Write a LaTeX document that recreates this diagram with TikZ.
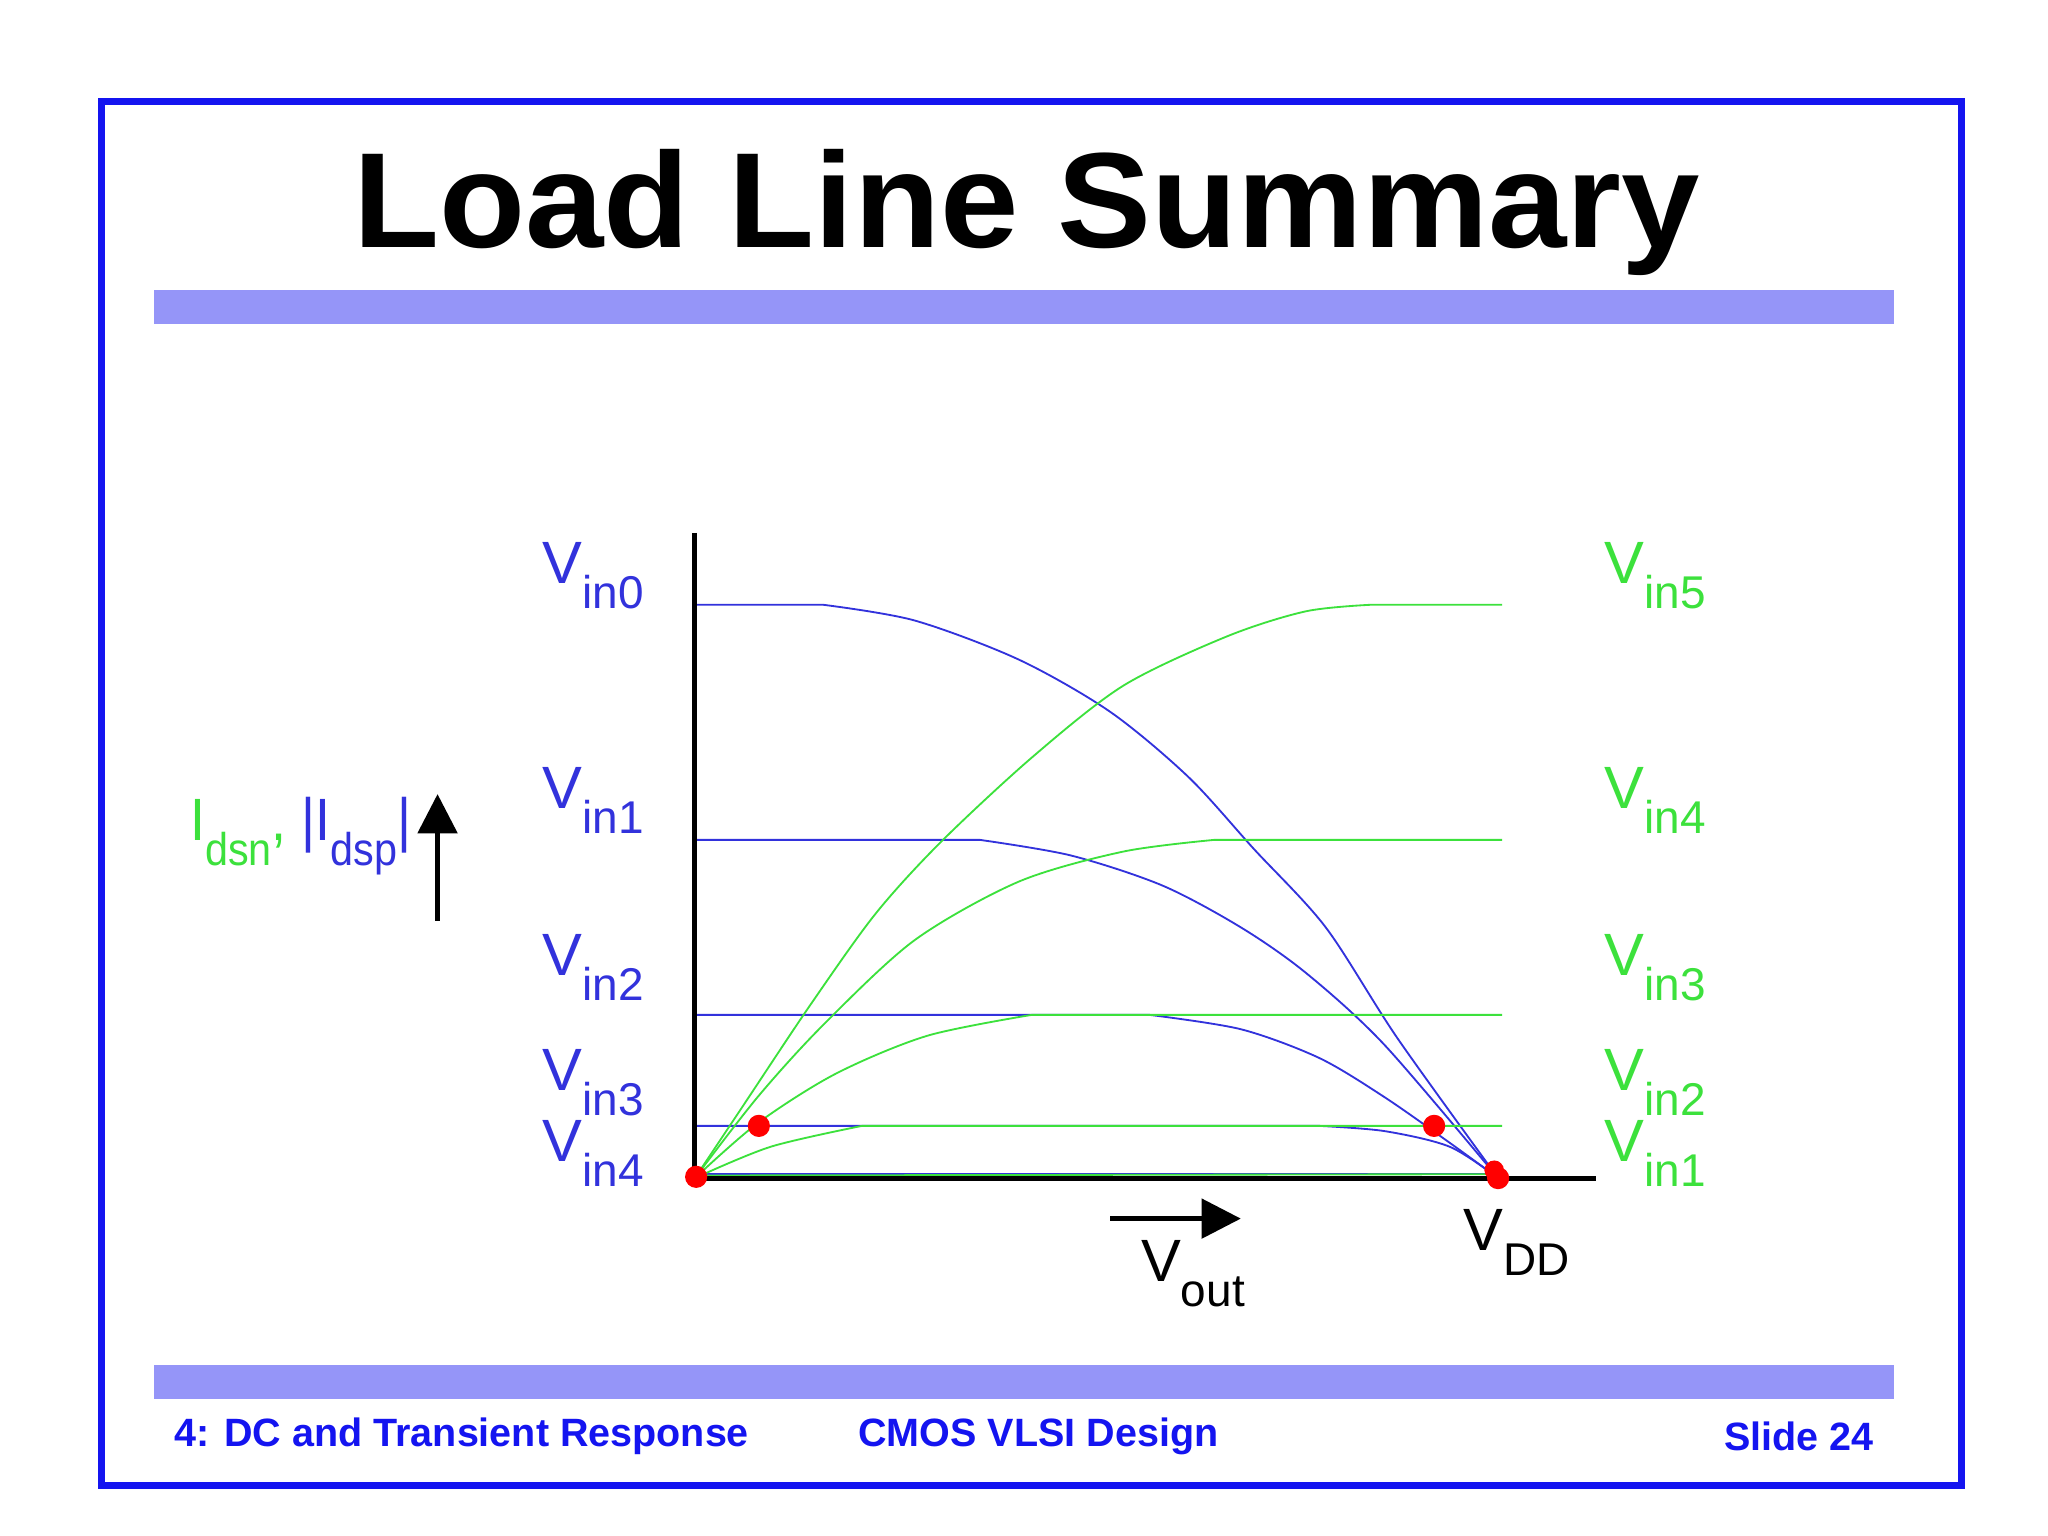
\documentclass[tikz,border=0pt]{standalone}
\usepackage{fontspec}
\setmainfont{Liberation Sans}
\usetikzlibrary{arrows.meta}
\definecolor{fb}{RGB}{20,20,240}
\definecolor{cb}{RGB}{50,50,220}
\definecolor{cg}{RGB}{60,225,60}
\newcommand{\sbs}[1]{\raisebox{-0.42em}{\fontsize{10}{11}\selectfont #1}}
\begin{document}
\begin{tikzpicture}[x=0.01cm,y=-0.01cm,
  vl/.style={font=\fontsize{13}{15}\selectfont,inner sep=0pt},
  bl/.style={cb,line width=0.4pt},
  gl/.style={cg,line width=0.4pt},
  dot/.style={circle,fill=red,inner sep=0pt,minimum size=0.17cm},
  bar/.style={fill=fb!45!white,draw=none},
  ft/.style={fb,font=\fontsize{8.6}{10}\selectfont\bfseries,inner sep=0pt}]
\useasboundingbox (0,0) rectangle (1568,1176);
\fill[white] (0,0) rectangle (1568,1176);
\draw[fb,line width=1.5pt] (78,78) rectangle (1502,1137);
\node[font=\fontsize{29.5}{34}\selectfont\bfseries,inner sep=0pt,xscale=1.04] (title) at (786,163) {Load Line Summary};
\fill[bar] (118,222) rectangle (1450,248);
\fill[bar] (118,1045) rectangle (1450,1071);
\node[ft,anchor=west] (f1) at (133,1100) {4: DC and Transient Response};
\node[ft] (f2) at (795,1100) {CMOS VLSI Design};
\node[ft,anchor=east] (f3) at (1435,1100) {Slide 24};
% curves blue
\draw[bl] (532,463) -- (630,463) plot[smooth] coordinates {(630,463)(700,475)(780,505)(850,545)(910,595)(960,650)(1015,710)(1070,795)(1147,902)};
\draw[bl] (532,643) -- (750,643) plot[smooth] coordinates {(750,643)(820,655)(890,678)(950,710)(1000,745)(1060,800)(1147,902)};
\draw[bl] (532,777) -- (880,777) plot[smooth] coordinates {(880,777)(950,788)(1010,810)(1060,840)(1110,875)(1147,902)};
\draw[bl] (532,862) -- (1010,862) plot[smooth] coordinates {(1010,862)(1060,866)(1110,878)(1147,902)};
\draw[bl] (532,899) -- (1147,899);
% curves green
\draw[gl] plot[smooth] coordinates {(532,902)(570,845)(620,770)(670,700)(720,645)(790,580)(860,525)(940,487)(1000,468)(1050,463)} -- (1150,463);
\draw[gl] plot[smooth] coordinates {(532,902)(580,840)(630,785)(700,720)(780,675)(860,652)(930,643)} -- (1150,643);
\draw[gl] plot[smooth] coordinates {(532,902)(580,860)(640,822)(710,793)(790,777)} -- (1150,777);
\draw[gl] plot[smooth] coordinates {(532,902)(590,878)(660,862)} -- (1150,862);
\draw[gl] (532,900) -- (1150,899);
% axes
\draw[line width=1.1pt] (532,408) -- (532,902) -- (1222,902);
\node[dot] (d1) at (533,901) {};
\node[dot] (d2) at (581,862) {};
\node[dot] (d3) at (1098,862) {};
\node[dot] (d4) at (1147,902) {};
\node[dot,minimum size=0.15cm] (d5) at (1144,896) {};
% labels
\foreach \n/\y in {0/441,1/613,2/741,3/829,4/883}
  \node[vl,cb,anchor=west] (l\n) at (415,\y) {V\sbs{in\n}};
\foreach \n/\y in {5/441,4/613,3/741,2/829,1/883}
  \node[vl,cg,anchor=west] (r\n) at (1228,\y) {V\sbs{in\n}};
\node[vl,anchor=west,xscale=0.9] (il) at (145,640) {\textcolor{cg}{I\sbs{dsn}, }\textcolor{cb}{|I\sbs{dsp}|}};
\coordinate (ya) at (335,705); \coordinate (yb) at (335,608);
\draw[line width=1pt,-{Triangle[length=0.3cm,width=0.3cm]}] (ya) -- (yb);
\coordinate (xa) at (850,933); \coordinate (xb) at (950,933);
\draw[line width=1pt,-{Triangle[length=0.3cm,width=0.3cm]}] (xa) -- (xb);
\node[vl,anchor=west] (vout) at (873,975) {V\sbs{out}};
\node[vl,anchor=west] (vdd) at (1120,951) {V\sbs{DD}};
\end{tikzpicture}
\end{document}
